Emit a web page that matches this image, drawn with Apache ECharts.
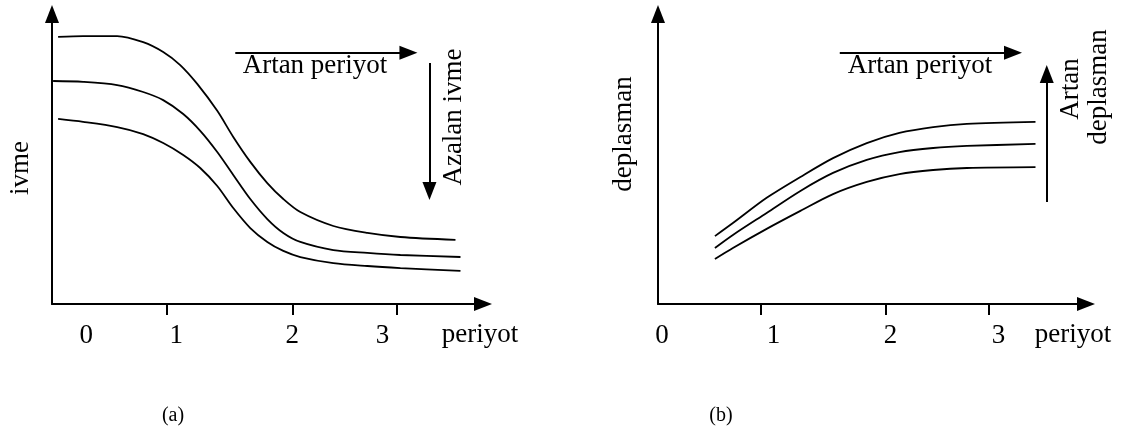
<!DOCTYPE html>
<html>
<head>
<meta charset="utf-8">
<script src="https://cdn.jsdelivr.net/npm/echarts@6/dist/echarts.min.js"></script>
<style>
html, body { margin: 0; background: #fff; }
#chart { width: 1123px; height: 430px; }
</style>
</head>
<body>
<div id="chart"></div>
<script>
// (a) ivme - periyot egrileri
var ivmeUstX  = [-0.26, -0.01, 0.33, 0.59, 0.79, 0.96, 1.13, 1.33, 1.49, 1.66, 1.83, 1.99, 2.16, 2.49, 2.83, 3.16, 3.71];
var ivmeUst   = [9.21, 9.24, 9.24, 9.03, 8.69, 8.24, 7.59, 6.66, 5.76, 4.90, 4.17, 3.62, 3.17, 2.69, 2.45, 2.31, 2.21];
var ivmeOrtaX = [-0.31, -0.01, 0.33, 0.59, 0.79, 0.99, 1.16, 1.33, 1.49, 1.66, 1.83, 1.99, 2.16, 2.49, 2.83, 3.16, 3.76];
var ivmeOrta  = [7.69, 7.66, 7.55, 7.31, 7.03, 6.55, 5.97, 5.24, 4.45, 3.62, 2.93, 2.45, 2.14, 1.86, 1.76, 1.69, 1.62];
var ivmeAltX  = [-0.26, -0.01, 0.33, 0.59, 0.79, 0.99, 1.16, 1.33, 1.49, 1.66, 1.83, 1.99, 2.16, 2.49, 2.83, 3.16, 3.76];
var ivmeAlt   = [6.38, 6.28, 6.10, 5.86, 5.55, 5.14, 4.69, 4.07, 3.31, 2.62, 2.14, 1.83, 1.62, 1.41, 1.31, 1.24, 1.14];

// (b) deplasman - periyot egrileri
var deplX    = [0.47, 0.63, 0.93, 1.23, 1.52, 1.82, 2.11, 2.41, 2.71, 3.32];
var deplUst  = [2.34, 2.79, 3.66, 4.38, 5.03, 5.55, 5.90, 6.10, 6.21, 6.28];
var deplOrta = [1.93, 2.38, 3.14, 3.90, 4.52, 4.97, 5.24, 5.38, 5.45, 5.52];
var deplAlt  = [1.55, 1.93, 2.59, 3.21, 3.79, 4.21, 4.48, 4.62, 4.69, 4.72];

// eksen isaretleri (cizim elle yapilmis, araliklar esit degil)
var tickLabels   = ['0', '1', '2', '3'];
var ivmeTicks    = [0.83, 2.08, 3.12];
var ivmeLabelPos = [0.02, 0.92, 2.08, 2.98];
var deplTicks    = [0.88, 1.99, 2.90];
var deplLabelPos = [0.0, 0.99, 2.03, 2.99];

var FONT = 'Liberation Serif';
var INK = '#000';

function pairs(xs, ys) {
    var out = [];
    for (var i = 0; i < xs.length; i++) out.push([xs[i], ys[i]]);
    return out;
}

function xAxisFor(idx, min, max, ticks, labelPos, gap) {
    return {
        type: 'value', gridIndex: idx, min: min, max: max,
        name: 'periyot', nameLocation: 'end', nameGap: gap,
        nameTextStyle: { fontFamily: FONT, fontSize: 27, color: INK, align: 'center', verticalAlign: 'top', lineHeight: 62 },
        axisLine: { show: true, onZero: false, symbol: ['none', 'triangle'], symbolSize: [14, 18], lineStyle: { color: INK, width: 2 } },
        axisTick: { show: true, customValues: ticks, length: 11, lineStyle: { color: INK, width: 2 } },
        axisLabel: {
            show: true, customValues: labelPos, margin: 18,
            fontFamily: FONT, fontSize: 27, color: INK,
            formatter: function (v) { return tickLabels[Math.round(v)]; }
        },
        splitLine: { show: false }
    };
}

function yAxisFor(idx, name, gap, pad) {
    return {
        type: 'value', gridIndex: idx, min: 0, max: 10,
        name: name, nameLocation: 'middle', nameRotate: 90, nameGap: gap,
        nameTextStyle: { fontFamily: FONT, fontSize: 27, color: INK, padding: pad },
        axisLine: { show: true, onZero: false, symbol: ['none', 'triangle'], symbolSize: [14, 18], lineStyle: { color: INK, width: 2 } },
        axisTick: { show: false },
        axisLabel: { show: false },
        splitLine: { show: false }
    };
}

function curve(idx, data, markLine) {
    var s = {
        type: 'line', xAxisIndex: idx, yAxisIndex: idx,
        data: data, symbol: 'none', smooth: 0.3,
        silent: true,
        lineStyle: { color: INK, width: 1.8 }
    };
    if (markLine) s.markLine = markLine;
    return s;
}

function arrows(list) {
    return {
        silent: true, symbol: ['none', 'triangle'], symbolSize: [14, 18],
        label: { show: false },
        lineStyle: { color: INK, width: 2, type: 'solid' },
        data: list
    };
}

function note(text, x, y, rot, size) {
    return {
        type: 'text', x: x, y: y, rotation: rot || 0, silent: true,
        style: {
            text: text, fill: INK, font: (size || 27) + 'px "' + FONT + '"',
            textAlign: 'center', textVerticalAlign: 'middle',
            align: 'center', verticalAlign: 'middle'
        }
    };
}

var chart = echarts.init(document.getElementById('chart'), null, { renderer: 'canvas' });
chart.setOption({
    animation: false,
    backgroundColor: '#fff',
    grid: [
        { left: 52, top: 14, width: 431, height: 290, outerBoundsMode: 'none' },
        { left: 658, top: 14, width: 428, height: 290, outerBoundsMode: 'none' }
    ],
    xAxis: [
        xAxisFor(0, -0.321, 3.985, ivmeTicks, ivmeLabelPos, -3),
        xAxisFor(1, -0.036, 3.769, deplTicks, deplLabelPos, -13)
    ],
    yAxis: [
        yAxisFor(0, 'ivme', 18, [0, 18, 0, 0]),
        yAxisFor(1, 'deplasman', 21, [0, 0, 0, 50])
    ],
    series: [
        curve(0, pairs(ivmeUstX, ivmeUst), arrows([
            [{ coord: [1.51, 8.66] }, { coord: [3.24, 8.66] }],
            [{ coord: [3.45, 8.31] }, { coord: [3.45, 3.90] }]
        ])),
        curve(0, pairs(ivmeOrtaX, ivmeOrta)),
        curve(0, pairs(ivmeAltX, ivmeAlt)),
        curve(1, pairs(deplX, deplUst), arrows([
            [{ coord: [1.58, 8.66] }, { coord: [3.12, 8.66] }],
            [{ coord: [3.42, 3.52] }, { coord: [3.42, 7.93] }]
        ])),
        curve(1, pairs(deplX, deplOrta)),
        curve(1, pairs(deplX, deplAlt))
    ],
    graphic: [
        note('Artan periyot', 315, 66),
        note('Azalan ivme', 454, 117, Math.PI / 2),
        note('Artan periyot', 920, 66),
        note('Artan', 1071, 89, Math.PI / 2),
        note('deplasman', 1099, 87, Math.PI / 2),
        note('(a)', 173, 416, 0, 20),
        note('(b)', 721, 416, 0, 20)
    ]
});
window.addEventListener('resize', chart.resize);
</script>
</body>
</html>
